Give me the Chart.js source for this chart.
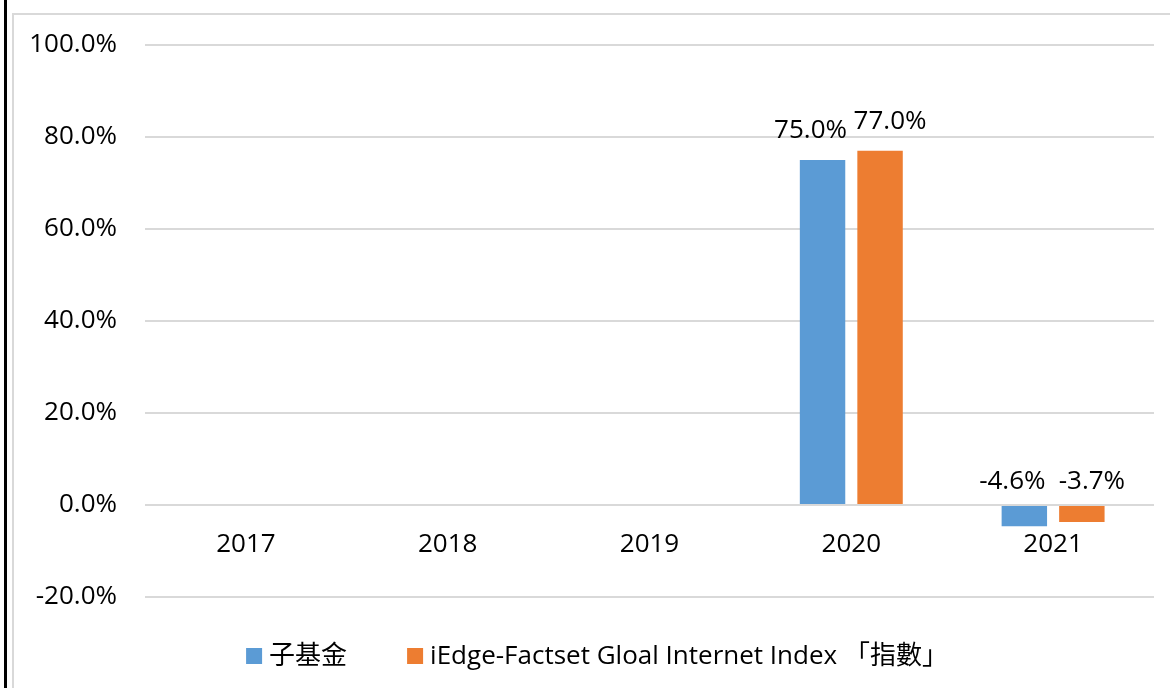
<!DOCTYPE html>
<html>
<head>
<meta charset="utf-8">
<script src="https://cdn.jsdelivr.net/npm/chart.js@4.4.1/dist/chart.umd.min.js"></script>
<style>
  html, body { margin: 0; padding: 0; background: #fff; }
  .Wrap { position: relative; width: 1170px; height: 688px; overflow: hidden; }
  .Edge { position: absolute; left: 4px; top: 0; width: 3px; height: 688px; background: #000; }
  .Frame { position: absolute; left: 12px; top: 13px; width: 1200px; height: 700px; border-left: 2px solid #d9d9d9; border-top: 2px solid #d9d9d9; }
  #ReturnChart { position: absolute; left: 0; top: 0; }
</style>
</head>
<body>
<div class="Wrap">
  <div class="Edge"></div>
  <div class="Frame"></div>
  <canvas id="ReturnChart" width="1170" height="688"></canvas>
</div>
<script>
const years = ["2017", "2018", "2019", "2020", "2021"];
const fundReturns = [null, null, null, 75.0, -4.6];
const indexReturns = [null, null, null, 77.0, -3.7];
const seriesNames = ["子基金", "iEdge-Factset Gloal Internet Index 「指數」"];
const seriesColors = ["#5b9bd5", "#ed7d31"];
const yMin = -20;
const yMax = 100;
const yStep = 20;

const baseFont = '"Open Sans", "Noto Sans CJK TC", sans-serif';

// value labels above each bar (negative ones sit above the zero line, like Excel)
const barValueLabels = {
  id: "barValueLabels",
  afterDatasetsDraw(chart, args, opts) {
    const { ctx } = chart;
    const zero = chart.scales.y.getPixelForValue(0);
    ctx.save();
    ctx.font = opts.font;
    ctx.fillStyle = opts.color;
    ctx.textAlign = "center";
    ctx.textBaseline = "alphabetic";
    chart.data.datasets.forEach((dataset, di) => {
      chart.getDatasetMeta(di).data.forEach((bar, i) => {
        const value = dataset.data[i];
        if (value === null || value === undefined) return;
        const y = value >= 0 ? bar.y - opts.gapAbove : zero - opts.gapNegative;
        ctx.fillText(value.toFixed(1) + "%", bar.x + opts.shift[di], y);
      });
    });
    ctx.restore();
  },
};

// square-box legend with a wide gap between items
const bottomLegend = {
  id: "bottomLegend",
  afterDraw(chart, args, opts) {
    const { ctx } = chart;
    ctx.save();
    ctx.font = opts.font;
    ctx.textBaseline = "middle";
    const items = chart.data.datasets.map((d) => ({
      text: d.label,
      color: d.backgroundColor,
      width: ctx.measureText(d.label).width,
    }));
    const total =
      items.reduce((sum, it) => sum + opts.box + opts.textGap + it.width, 0) +
      opts.itemGap * (items.length - 1);
    let x = opts.centerX - total / 2;
    items.forEach((it) => {
      ctx.fillStyle = it.color;
      ctx.fillRect(x, opts.y - opts.box / 2, opts.box, opts.box);
      x += opts.box + opts.textGap;
      ctx.fillStyle = opts.color;
      ctx.fillText(it.text, x, opts.y + 1);
      x += it.width + opts.itemGap;
    });
    ctx.restore();
  },
};

new Chart(document.querySelector("#ReturnChart"), {
  type: "bar",
  data: {
    labels: years,
    datasets: [
      {
        label: seriesNames[0],
        data: fundReturns,
        backgroundColor: seriesColors[0],
        categoryPercentage: 0.57,
        barPercentage: 0.79,
      },
      {
        label: seriesNames[1],
        data: indexReturns,
        backgroundColor: seriesColors[1],
        categoryPercentage: 0.57,
        barPercentage: 0.79,
      },
    ],
  },
  options: {
    responsive: false,
    animation: false,
    layout: {
      padding: { left: 0, top: 45, right: 16, bottom: 91 },
    },
    scales: {
      x: {
        position: { y: 0 },
        grid: { display: false, drawTicks: false },
        border: { display: false },
        ticks: {
          color: "#000",
          padding: 24,
          font: { family: baseFont, size: 26 },
        },
      },
      y: {
        min: yMin,
        max: yMax,
        afterFit(scale) {
          scale.width = 145;
        },
        grid: { color: "#d9d9d9", lineWidth: 2, drawTicks: false },
        border: { display: false },
        ticks: {
          stepSize: yStep,
          color: "#000",
          padding: 28,
          font: { family: baseFont, size: 26 },
          callback: (value) => value.toFixed(1) + "%",
        },
      },
    },
    plugins: {
      legend: { display: false },
      tooltip: { enabled: false },
      barValueLabels: {
        font: "26px " + baseFont,
        color: "#000",
        gapAbove: 22,
        gapNegative: 16,
        shift: [-12, 10],
      },
      bottomLegend: {
        font: "26px " + baseFont,
        color: "#000",
        box: 16,
        textGap: 7,
        itemGap: 60,
        centerX: 597,
        y: 656,
      },
    },
  },
  plugins: [barValueLabels, bottomLegend],
});
</script>
</body>
</html>
